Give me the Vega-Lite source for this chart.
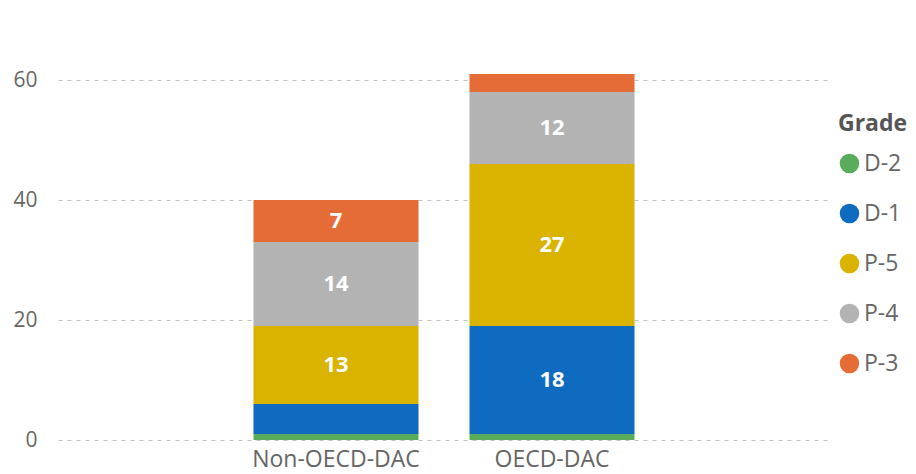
{
  "$schema": "https://vega.github.io/schema/vega-lite/v6.json",
  "autosize": "none",
  "width": 772,
  "height": 390,
  "padding": {"left": 58, "top": 50, "right": 86, "bottom": 34},
  "background": "white",
  "data": {
    "values": [
      {"Group": "Non-OECD-DAC", "Grade": "D-2", "Rank": 1, "Count": 1},
      {"Group": "Non-OECD-DAC", "Grade": "D-1", "Rank": 2, "Count": 5},
      {"Group": "Non-OECD-DAC", "Grade": "P-5", "Rank": 3, "Count": 13},
      {"Group": "Non-OECD-DAC", "Grade": "P-4", "Rank": 4, "Count": 14},
      {"Group": "Non-OECD-DAC", "Grade": "P-3", "Rank": 5, "Count": 7},
      {"Group": "OECD-DAC", "Grade": "D-2", "Rank": 1, "Count": 1},
      {"Group": "OECD-DAC", "Grade": "D-1", "Rank": 2, "Count": 18},
      {"Group": "OECD-DAC", "Grade": "P-5", "Rank": 3, "Count": 27},
      {"Group": "OECD-DAC", "Grade": "P-4", "Rank": 4, "Count": 12},
      {"Group": "OECD-DAC", "Grade": "P-3", "Rank": 5, "Count": 3}
    ]
  },
  "config": {
    "view": {"stroke": null},
    "font": "Open Sans"
  },
  "transform": [
    {"stack": "Count", "groupby": ["Group"], "sort": [{"field": "Rank", "order": "ascending"}], "as": ["y0", "y1"]}
  ],
  "encoding": {
    "x": {
      "field": "Group",
      "type": "nominal",
      "title": null,
      "scale": {"paddingInner": 0.236, "paddingOuter": 0.905},
      "axis": {
        "labelAngle": 0,
        "labelFontSize": 23,
        "labelColor": "#666666",
        "labelPadding": 8,
        "domain": false,
        "ticks": false,
        "grid": false
      }
    }
  },
  "layer": [
    {
      "mark": {"type": "bar"},
      "encoding": {
        "y": {
          "field": "y1",
          "type": "quantitative",
          "title": null,
          "scale": {"domain": [0, 65]},
          "axis": {
            "values": [0, 20, 40, 60],
            "labelFontSize": 21,
            "labelColor": "#666666",
            "labelPadding": 21,
            "domain": false,
            "ticks": false,
            "grid": true,
            "gridColor": "#c4c4c4",
            "gridDash": [4, 5],
            "gridWidth": 1
          }
        },
        "y2": {"field": "y0"},
        "color": {
          "field": "Grade",
          "type": "nominal",
          "scale": {
            "domain": ["D-2", "D-1", "P-5", "P-4", "P-3"],
            "range": ["#5BAB5D", "#0F6BC0", "#D9B300", "#B3B3B3", "#E66C37"]
          },
          "legend": {
            "orient": "none",
            "legendX": 780,
            "legendY": 63,
            "title": "Grade",
            "titleFontSize": 23,
            "titleFontWeight": "bold",
            "titleColor": "#555555",
            "titlePadding": 16,
            "labelFontSize": 23,
            "labelColor": "#666666",
            "labelOffset": 3,
            "symbolType": "circle",
            "symbolSize": 380,
            "symbolStrokeWidth": 0,
            "rowPadding": 26,
            "padding": 0
          }
        }
      }
    },
    {
      "transform": [{"filter": "datum.Count >= 6"}],
      "mark": {
        "type": "text",
        "color": "white",
        "fontWeight": "bold",
        "fontSize": 22,
        "baseline": "middle",
        "dy": {"expr": "(scale('y', datum.y0) - scale('y', datum.y1)) / 2"}
      },
      "encoding": {
        "y": {"field": "y1", "type": "quantitative"},
        "text": {"field": "Count", "type": "quantitative"}
      }
    }
  ]
}
